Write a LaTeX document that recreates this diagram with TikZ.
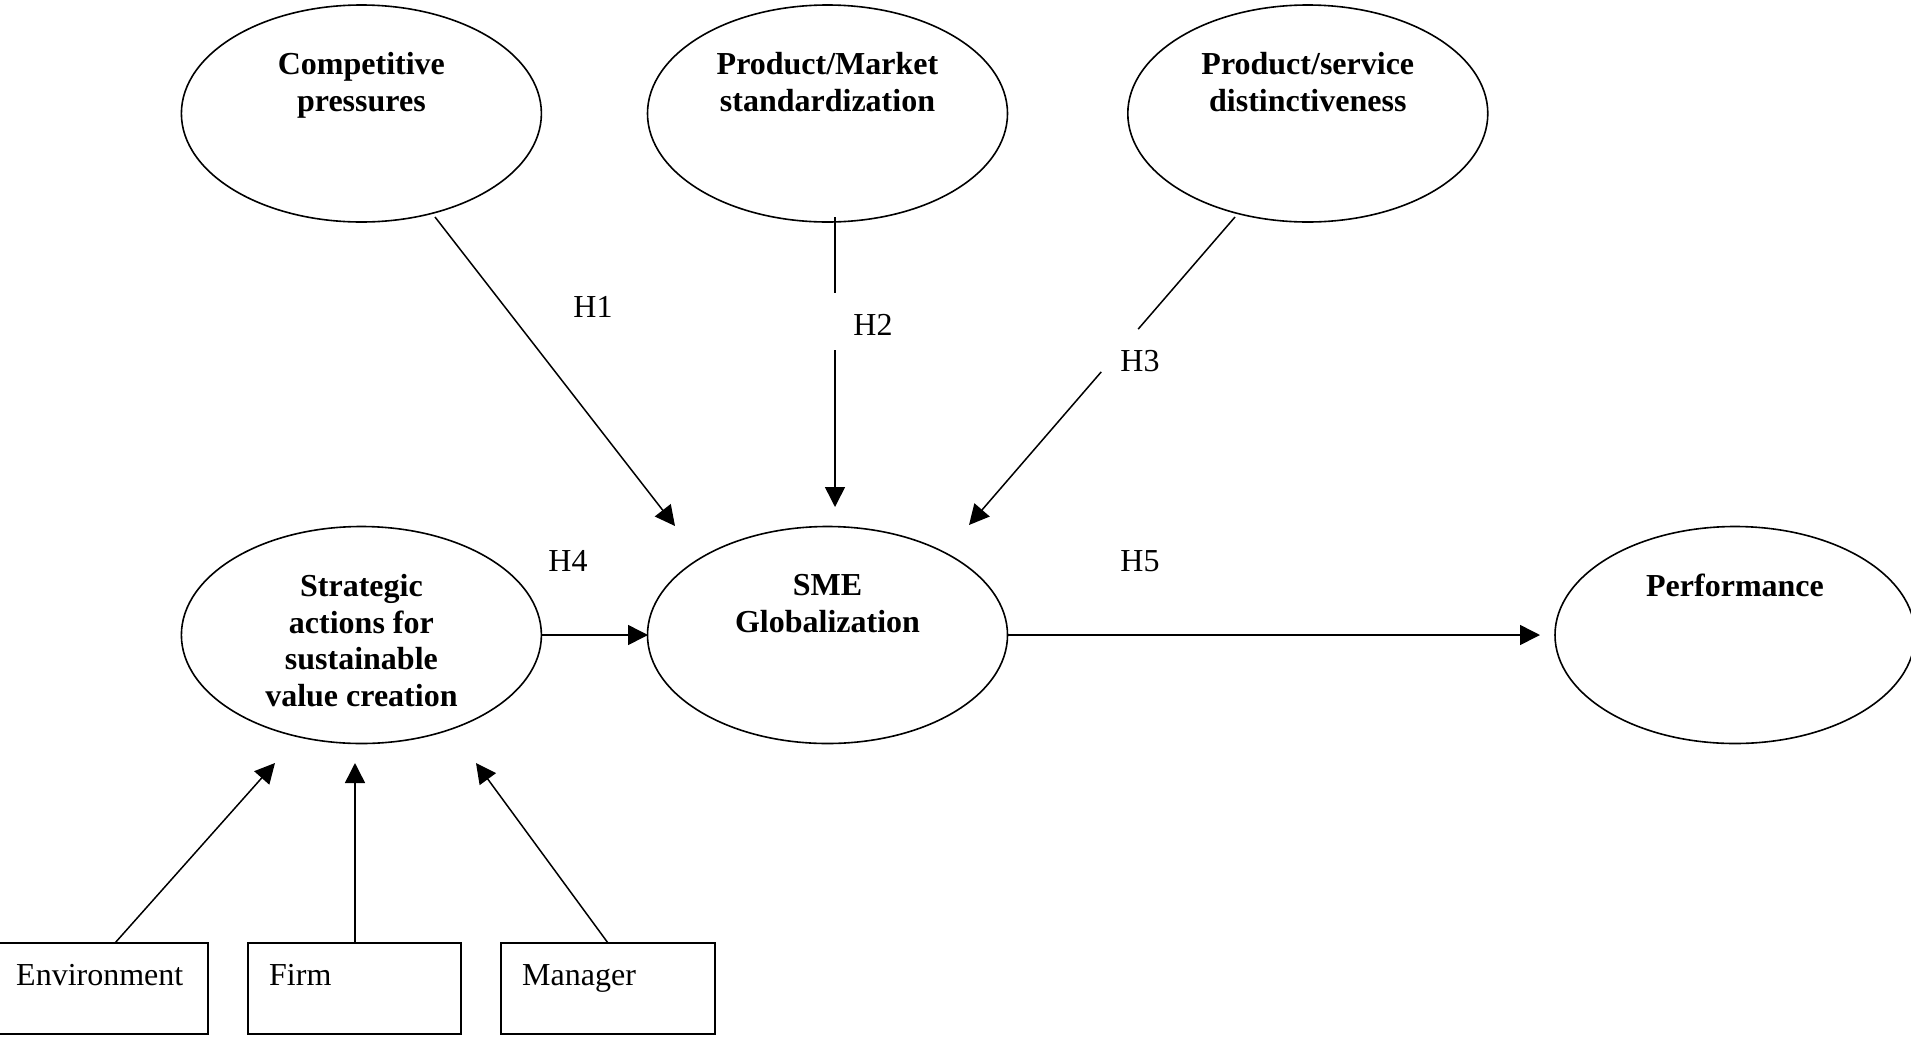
\documentclass[tikz,border=0pt]{standalone}
\usepackage{fontspec}
\setmainfont{Liberation Serif}
\usetikzlibrary{arrows.meta,shapes.geometric,calc}
\begin{document}
\begin{tikzpicture}[x=1pt,y=-1pt,
  ell/.style={draw,ellipse,line width=1.6pt,minimum width=360pt,minimum height=217pt,inner sep=0pt},
  etxt/.style={font=\fontsize{32}{36.7}\selectfont\bfseries,align=center,anchor=north,inner sep=0pt},
  htxt/.style={font=\fontsize{32}{36}\selectfont,anchor=base,inner sep=0pt},
  btxt/.style={font=\fontsize{32}{36}\selectfont,anchor=base west,inner sep=0pt},
  boxn/.style={draw,rectangle,line width=1.5pt,inner sep=0pt,minimum height=91pt},
  con/.style={line width=1.5pt},
  arr/.style={con,-{Triangle[length=20pt,width=20pt]}}
]
\useasboundingbox (0,0) rectangle (1911,1037);

% ellipses
\node[ell] (cp) at (361.4,113.5) {};
\node[ell] (pm) at (827.5,113.5) {};
\node[ell] (ps) at (1307.8,113.5) {};
\node[ell] (sa) at (361.4,635) {};
\node[ell] (sme) at (827.5,635) {};
\node[ell] (perf) at (1735,635) {};

\node[etxt] (cpt) at (361.4,52) {Competitive\\pressures};
\node[etxt] (pmt) at (827.5,52) {Product/Market\\standardization};
\node[etxt] (pst) at (1307.8,52) {Product/service\\distinctiveness};
\node[etxt] (sat) at (361.4,574) {Strategic\\actions for\\sustainable\\value creation};
\node[etxt] (smet) at (827.5,574) {SME\\Globalization};
\node[etxt] (perft) at (1735,574) {Performance};

% boxes
\node[boxn,minimum width=213pt] (env) at (101.5,988.5) {};
\node[boxn,minimum width=213pt] (firm) at (354.5,988.5) {};
\node[boxn,minimum width=214pt] (man) at (608,988.5) {};
\node[btxt] (envt) at (16,985) {Environment};
\node[btxt] (firmt) at (269,985) {Firm};
\node[btxt] (mant) at (522,985) {Manager};

% connector end points
\coordinate (h1s) at (435,217);
\coordinate (h1e) at (675,526);
\coordinate (h2s) at (835,217);
\coordinate (h2e) at (835,507);
\coordinate (h3s) at (1235,217);
\coordinate (h3e) at (969,525);
\coordinate (h4s) at (541,635);
\coordinate (h4e) at (648,635);
\coordinate (h5s) at (1008,635);
\coordinate (h5e) at (1540,635);
\coordinate (es) at (115,943);
\coordinate (ee) at (275,763);
\coordinate (fs) at (355,943);
\coordinate (fe) at (355,763);
\coordinate (ms) at (608,943);
\coordinate (me) at (476,763);

% connectors
\draw[arr] (h1s) -- (h1e);
\draw[con] (h2s) -- ($(h2s)!0.262!(h2e)$);
\draw[arr] ($(h2s)!0.459!(h2e)$) -- (h2e);
\draw[con] (h3s) -- ($(h3s)!0.364!(h3e)$);
\draw[arr] ($(h3s)!0.503!(h3e)$) -- (h3e);
\draw[arr] (h4s) -- (h4e);
\draw[arr] (h5s) -- (h5e);
\draw[arr] (es) -- (ee);
\draw[arr] (fs) -- (fe);
\draw[arr] (ms) -- (me);

% labels
\node[htxt] (h1) at (593,317) {H1};
\node[htxt] (h2) at (873,335) {H2};
\node[htxt] (h3) at (1140,371) {H3};
\node[htxt] (h4) at (568,571) {H4};
\node[htxt] (h5) at (1140,571) {H5};
\end{tikzpicture}
\end{document}
